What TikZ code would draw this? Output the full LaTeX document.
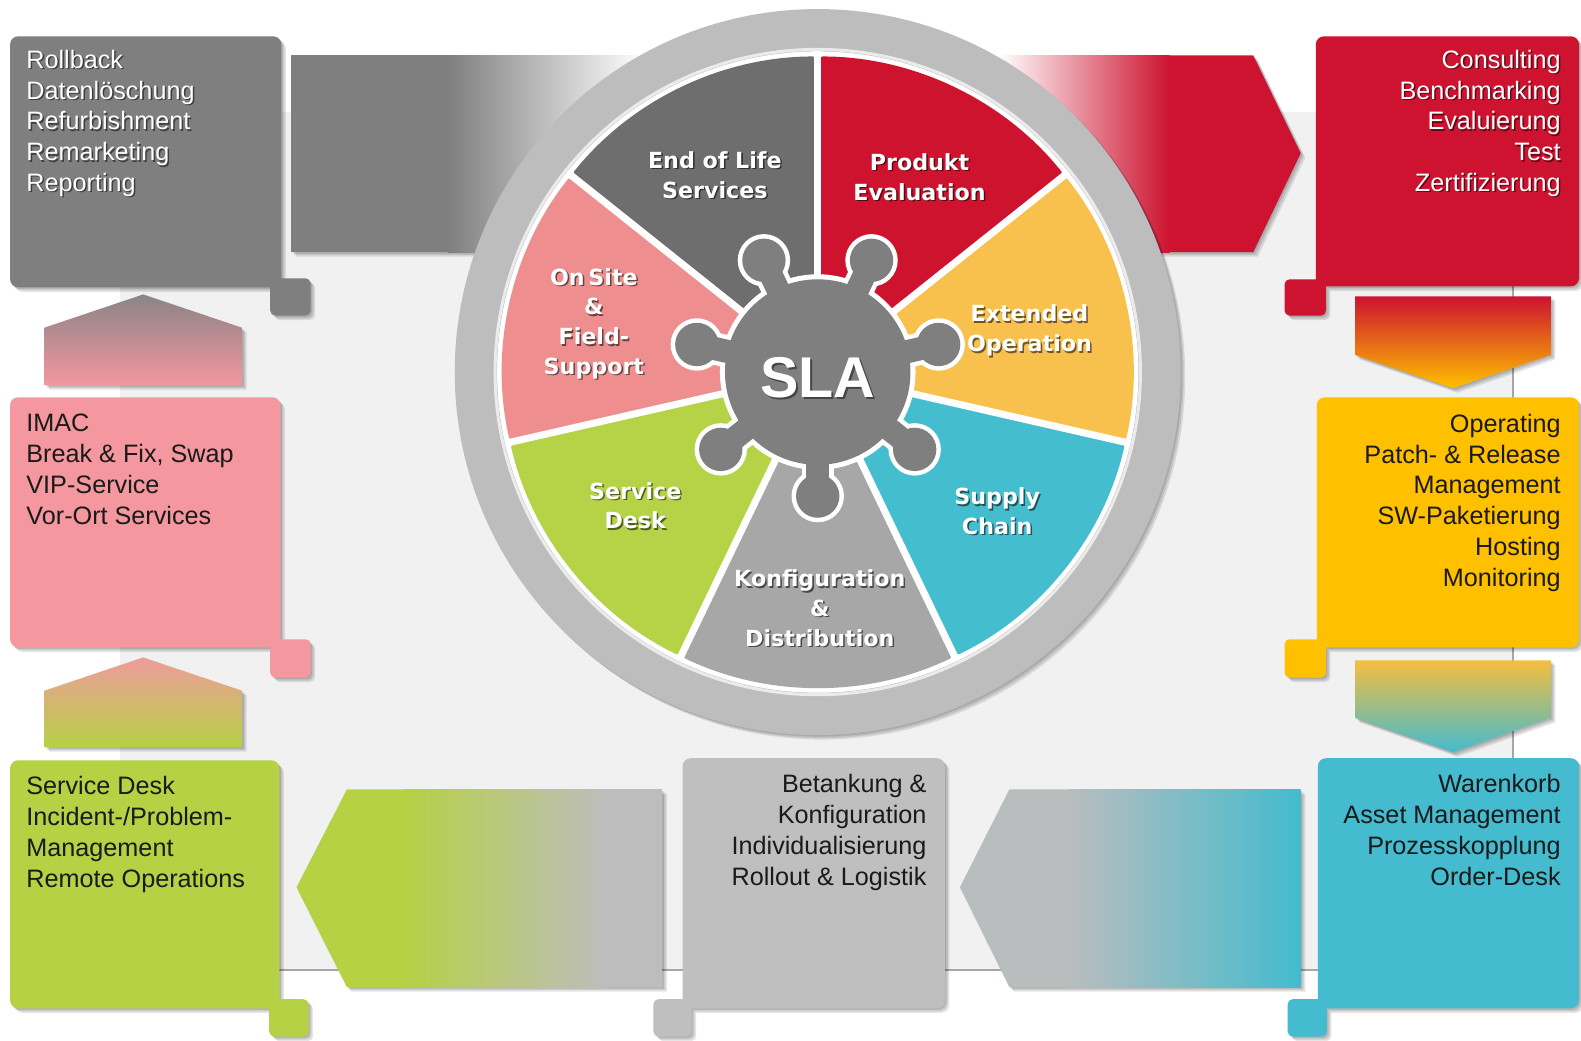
\documentclass[tikz,border=0pt]{standalone}
\usepackage{fontspec}
\setmainfont{Liberation Sans}
\newfontfamily\wheelfont{DejaVu Sans}
\usetikzlibrary{shadows}
\definecolor{cgrayD}{HTML}{7F7F7F}
\definecolor{cred}{HTML}{CD1330}
\definecolor{cyel}{HTML}{FFC000}
\definecolor{cteal}{HTML}{44BBCE}
\definecolor{cgrayL}{HTML}{BFBFBF}
\definecolor{cgreen}{HTML}{B6D144}
\definecolor{cpink}{HTML}{F4979F}
\definecolor{cpanel}{HTML}{F1F1F1}
\definecolor{cring}{HTML}{BDBDBD}
\definecolor{sEol}{HTML}{6E6E6E}
\definecolor{sProd}{HTML}{CE132E}
\definecolor{sExt}{HTML}{F8C14E}
\definecolor{sSup}{HTML}{44BDCF}
\definecolor{sKonf}{HTML}{A7A7A7}
\definecolor{sServ}{HTML}{B6D246}
\definecolor{sOn}{HTML}{EF8E8E}
\definecolor{ctext}{HTML}{1A1A1A}
\definecolor{cgrayA}{HTML}{B9BDBE}
\definecolor{cgrayB}{HTML}{BDBDBD}
\definecolor{cmauve}{HTML}{8A8486}
\definecolor{cpinkA}{HTML}{EE9C9C}
\definecolor{cyelA}{HTML}{F5BE3E}
\newcommand{\tabbox}[9]{%
  \fill[#1, boxshadow] [rounded corners=8] (#2,#3) rectangle (#4,#5) [rounded corners=5] (#6,#7) rectangle (#8,#9);}
\newcommand{\softshadow}[1]{%
  \fill[black, opacity=.11, shift={(1.5,1.5)}] #1;
  \fill[black, opacity=.11, shift={(3,3)}] #1;
  \fill[black, opacity=.10, shift={(4.5,4.5)}] #1;}
\newcommand{\segtext}[4]{%
  \node[segtxt, text=black, opacity=.55, text opacity=.55] (#1-sh) at (#2+1.5,#3+1.5) {#4};
  \node[segtxt] (#1) at (#2,#3) {#4};}
\begin{document}
\begin{tikzpicture}[x=1pt,y=-1pt,
  boxshadow/.style={
    drop shadow={shadow xshift=1.5pt,shadow yshift=-1.5pt,opacity=.11,fill=black},
    drop shadow={shadow xshift=3pt,shadow yshift=-3pt,opacity=.11,fill=black},
    drop shadow={shadow xshift=4.5pt,shadow yshift=-4.5pt,opacity=.10,fill=black}},
  boxtxt/.style={inner sep=0pt, font=\fontsize{25}{30.5}\selectfont},
  segtxt/.style={inner sep=0pt, align=center, text=white, font=\wheelfont\bfseries\fontsize{22}{29.5}\selectfont}]
\useasboundingbox (0,0) rectangle (1568,1032);
\fill[white] (0,0) rectangle (1568,1032);
% background panel
\fill[cpanel, drop shadow={shadow xshift=2pt,shadow yshift=-2pt,opacity=.35,fill=black}] (119,111) rectangle (1500,961);

% ---------- arrows ----------
% top band (gray -> white -> red)
\softshadow{(289,55) -- (1243,55) -- (1290,152) -- (1243,250) -- (289,250) -- cycle}
\fill[cgrayD] (289,55) rectangle (445,250);
\shade[left color=cgrayD, right color=white] (444,55) rectangle (640,250);
\fill[white] (639,55) rectangle (991,250);
\shade[left color=white, right color=cred] (990,55) rectangle (1160,250);
\fill[cred] (1159,55) -- (1243,55) -- (1290,152) -- (1243,250) -- (1159,250) -- cycle;
% right column down arrows
\softshadow{(1344,294) -- (1538,294) -- (1538,352) -- (1441,385) -- (1344,352) -- cycle}
\shade[top color=cred, bottom color=cyel] (1344,294) -- (1538,294) -- (1538,352) -- (1441,385) -- (1344,352) -- cycle;
\softshadow{(1344,655) -- (1538,655) -- (1538,712) -- (1441,746) -- (1344,712) -- cycle}
\shade[top color=cyelA, bottom color=cteal] (1344,655) -- (1538,655) -- (1538,712) -- (1441,746) -- (1344,712) -- cycle;
% left column up arrows
\softshadow{(44,325) -- (142,292) -- (240,325) -- (240,382) -- (44,382) -- cycle}
\shade[top color=cmauve, bottom color=cpink] (44,325) -- (142,292) -- (240,325) -- (240,382) -- (44,382) -- cycle;
\softshadow{(44,685) -- (142,652) -- (240,685) -- (240,741) -- (44,741) -- cycle}
\shade[top color=cpinkA, bottom color=cgreen] (44,685) -- (142,652) -- (240,685) -- (240,741) -- (44,741) -- cycle;
% bottom right arrow (teal -> gray)
\softshadow{(952,880) -- (1001,783) -- (1290,783) -- (1290,979) -- (1001,979) -- cycle}
\fill[cgrayA] (952,880) -- (1001,783) -- (1061,783) -- (1061,979) -- (1001,979) -- cycle;
\shade[left color=cgrayA, right color=cteal] (1060,783) rectangle (1290,979);
% bottom left arrow (gray -> green)
\softshadow{(294,880) -- (344,783) -- (657,783) -- (657,979) -- (344,979) -- cycle}
\fill[cgreen] (294,880) -- (344,783) -- (401,783) -- (401,979) -- (344,979) -- cycle;
\shade[left color=cgreen, right color=cgrayB] (400,783) rectangle (601,979);
\fill[cgrayB] (600,783) rectangle (657,979);

% ---------- boxes ----------
\tabbox{cgrayD}{10}{36}{279}{285}{268}{276}{308}{313}
\tabbox{cred}{1305}{36}{1566}{284}{1274}{277}{1315}{313}
\tabbox{cyel}{1306}{394}{1566}{642}{1274}{634}{1315}{672}
\tabbox{cteal}{1307}{752}{1566}{1000}{1277}{991}{1316}{1028}
\tabbox{cgrayL}{677}{752}{937}{1000}{648}{991}{686}{1028}
\tabbox{cgreen}{10}{754}{277}{1000}{267}{991}{306}{1028}
\tabbox{cpink}{10}{394}{278}{642}{268}{634}{308}{672}

% ---------- wheel ----------
\softshadow{(811,369) circle (360)}
\fill[cring] (811,369) circle (360);
\draw[white!70!cring, line width=3] (811,369) circle (320);
\fill[white] (811,369) circle (318);
\begin{scope}[shift={(811,369)}, yscale=-1]
  \fill[sProd, rounded corners=5] (0,0) -- (38.571:313) arc[start angle=38.571, end angle=90, radius=313] -- cycle;
  \fill[sEol, rounded corners=5] (0,0) -- (90:313) arc[start angle=90, end angle=141.429, radius=313] -- cycle;
  \fill[sOn, rounded corners=5] (0,0) -- (141.429:313) arc[start angle=141.429, end angle=192.857, radius=313] -- cycle;
  \fill[sServ, rounded corners=5] (0,0) -- (192.857:313) arc[start angle=192.857, end angle=244.286, radius=313] -- cycle;
  \fill[sKonf, rounded corners=5] (0,0) -- (244.286:313) arc[start angle=244.286, end angle=295.714, radius=313] -- cycle;
  \fill[sSup, rounded corners=5] (0,0) -- (295.714:313) arc[start angle=295.714, end angle=347.143, radius=313] -- cycle;
  \fill[sExt, rounded corners=5] (0,0) -- (347.143:313) arc[start angle=347.143, end angle=398.571, radius=313] -- cycle;
  \foreach \a in {38.571,90,141.429,192.857,244.286,295.714,347.143}
    \draw[white, line width=7] (0,0) -- (\a:318);
  \foreach \m in {12.857,64.286,115.714,167.143,218.571,270,321.429}{
    \fill[white] (\m:123) circle (26);
    \draw[white, line width=32] (0,0) -- (\m:123);}
  \fill[white] (0,0) circle (97);
  \foreach \m in {12.857,64.286,115.714,167.143,218.571,270,321.429}{
    \fill[cgrayD] (\m:123) circle (21.5);
    \draw[cgrayD, line width=23] (0,0) -- (\m:123);}
  \fill[cgrayD] (0,0) circle (92);
\end{scope}

% ---------- wheel texts ----------
\node[text=black, opacity=.45, text opacity=.45, inner sep=0pt, font=\bfseries\fontsize{57}{60}\selectfont] (sla-sh) at (813,377) {SLA};
\node[text=white, inner sep=0pt, font=\bfseries\fontsize{57}{60}\selectfont] (sla) at (811,375) {SLA};
\segtext{eol}{709}{173.5}{End of Life\\Services}
\segtext{prod}{912}{175.5}{Produkt\\Evaluation}
\segtext{onsite}{589}{321}{On\,Site\\\&\\Field-\\Support}
\segtext{ext}{1021}{328}{Extended\\Operation}
\segtext{serv}{630}{501.5}{Service\\Desk}
\segtext{sup}{989}{507}{Supply\\Chain}
\segtext{konf}{813}{603}{Konfiguration\\\&\\Distribution}

% ---------- box texts ----------
\node[boxtxt, align=left, anchor=north west, text=black, opacity=.5, text opacity=.5] (tl-sh) at (27.5,47.7)
  {\strut Rollback\\Datenlöschung\\Refurbishment\\Remarketing\\Reporting};
\node[boxtxt, align=left, anchor=north west, text=white] (tl) at (26,46.2)
  {\strut Rollback\\Datenlöschung\\Refurbishment\\Remarketing\\Reporting};
\node[boxtxt, align=right, anchor=north east, text=black, opacity=.5, text opacity=.5] (tr-sh) at (1549.5,47.7)
  {\strut Consulting\\Benchmarking\\Evaluierung\\Test\\Zertifizierung};
\node[boxtxt, align=right, anchor=north east, text=white] (tr) at (1548,46.2)
  {\strut Consulting\\Benchmarking\\Evaluierung\\Test\\Zertifizierung};
\node[boxtxt, align=right, anchor=north east, text=ctext] (yel) at (1548,407.2)
  {\strut Operating\\Patch- \& Release\\Management\\SW-Paketierung\\Hosting\\Monitoring};
\node[boxtxt, align=right, anchor=north east, text=ctext] (teal) at (1548,764.7)
  {\strut Warenkorb\\Asset Management\\Prozesskopplung\\Order-Desk};
\node[boxtxt, align=right, anchor=north east, text=ctext] (gry) at (919,764.7)
  {\strut Betankung \&\\Konfiguration\\Individualisierung\\Rollout \& Logistik};
\node[boxtxt, align=left, anchor=north west, text=ctext] (grn) at (26,766.7)
  {\strut Service Desk\\Incident-/Problem-\\Management\\Remote Operations};
\node[boxtxt, align=left, anchor=north west, text=ctext] (pnk) at (26,406.7)
  {\strut IMAC\\Break \& Fix, Swap\\VIP-Service\\Vor-Ort Services};
\end{tikzpicture}
\end{document}
